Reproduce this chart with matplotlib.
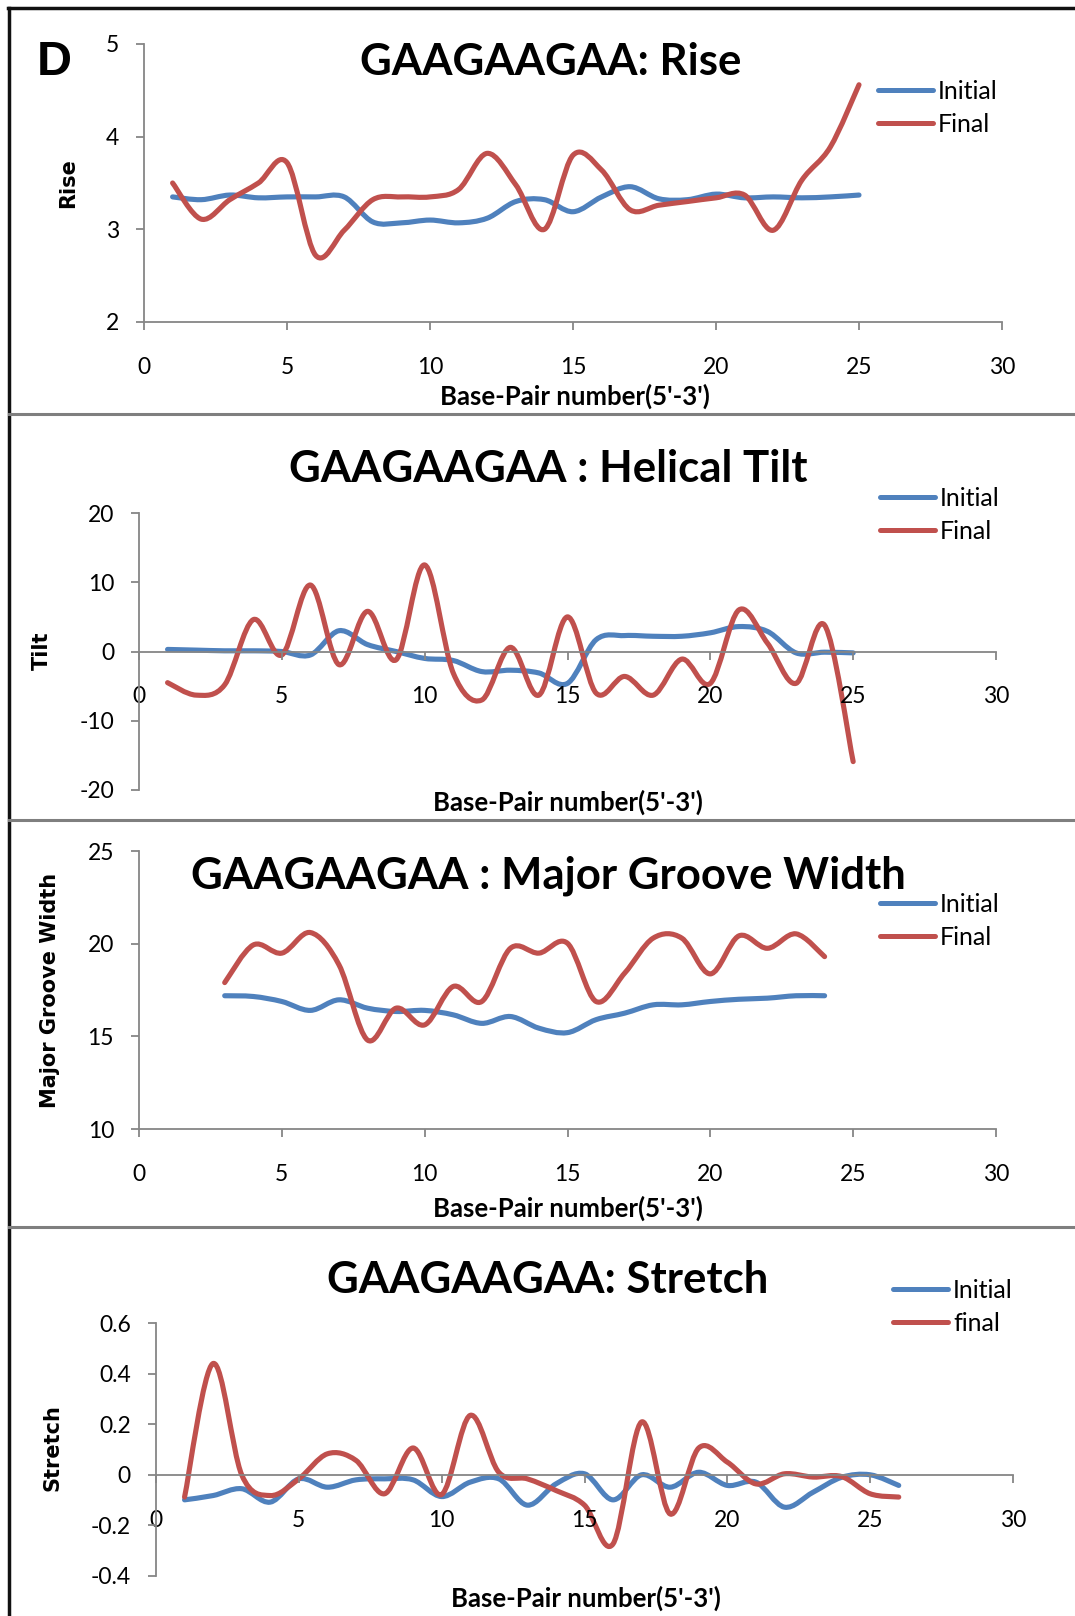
import numpy as np
import matplotlib.pyplot as plt
from matplotlib.path import Path
from matplotlib.patches import PathPatch
from matplotlib.lines import Line2D
from matplotlib.ticker import FuncFormatter

plt.rcParams['font.family'] = ['Lato', 'DejaVu Sans']
plt.rcParams['axes.unicode_minus'] = False

W, H = 1075, 1616
BLUE = '#4f81bd'
RED = '#c0504d'
AXIS = '#868686'

# Rise (Angstrom) per base-pair step
bp_rise = list(range(1, 26))
rise_initial = [3.35, 3.32, 3.37, 3.34, 3.35, 3.35, 3.35, 3.08, 3.07, 3.10, 3.07, 3.12, 3.30,
                3.32, 3.19, 3.35, 3.46, 3.33, 3.32, 3.38, 3.34, 3.35, 3.34, 3.35, 3.37]
rise_final = [3.50, 3.11, 3.32, 3.50, 3.72, 2.72, 2.99, 3.32, 3.35, 3.35, 3.43, 3.82, 3.48,
              3.00, 3.80, 3.64, 3.21, 3.26, 3.30, 3.34, 3.37, 2.99, 3.53, 3.89, 4.56]

# Helical tilt (degrees)
bp_tilt = list(range(1, 26))
tilt_initial = [0.3, 0.2, 0.1, 0.1, 0.0, -0.5, 3.0, 1.0, 0.0, -1.0, -1.3, -2.9, -2.7,
                -3.1, -4.6, 1.7, 2.3, 2.2, 2.2, 2.7, 3.6, 2.9, -0.2, -0.1, -0.2]
tilt_final = [-4.5, -6.3, -4.8, 4.6, -0.5, 9.6, -1.9, 5.8, -1.2, 12.5, -3.1, -7.0, 0.6,
              -6.3, 5.0, -6.0, -3.6, -6.3, -1.1, -4.6, 6.0, 1.2, -4.6, 3.8, -15.9]

# Major groove width (Angstrom)
bp_groove = list(range(3, 25))
groove_initial = [17.19, 17.15, 16.88, 16.40, 16.97, 16.52, 16.34, 16.40, 16.16, 15.70, 16.07,
                  15.44, 15.20, 15.90, 16.25, 16.70, 16.70, 16.88, 17.00, 17.06, 17.19, 17.19]
groove_final = [17.90, 19.93, 19.49, 20.60, 18.86, 14.80, 16.52, 15.62, 17.69, 16.88, 19.75,
                19.49, 20.02, 16.88, 18.41, 20.30, 20.30, 18.37, 20.42, 19.75, 20.53, 19.30]

# Stretch (Angstrom)
bp_stretch = list(range(1, 27))
stretch_initial = [-0.099, -0.082, -0.055, -0.108, -0.016, -0.049, -0.020, -0.016, -0.020,
                   -0.086, -0.029, -0.016, -0.120, -0.036, 0.004, -0.099, 0.000, -0.049,
                   0.010, -0.042, -0.029, -0.128, -0.069, -0.010, 0.000, -0.042]
stretch_final = [-0.088, 0.440, 0.000, -0.082, -0.016, 0.083, 0.057, -0.075, 0.106, -0.078,
                 0.235, 0.010, -0.016, -0.062, -0.120, -0.273, 0.209, -0.155, 0.106, 0.050,
                 -0.036, 0.004, -0.009, -0.007, -0.075, -0.088]

x_ticks = [0, 5, 10, 15, 20, 25, 30]


def smooth_path(x, y):
    # cubic bezier through every point (spreadsheet style smoothed line)
    x = np.asarray(x, float)
    y = np.asarray(y, float)
    px = np.concatenate([[x[0]], x, [x[-1]]])
    py = np.concatenate([[y[0]], y, [y[-1]]])
    verts = [(x[0], y[0])]
    codes = [Path.MOVETO]
    for i in range(len(x) - 1):
        c1 = (px[i + 1] + (px[i + 2] - px[i]) / 6, py[i + 1] + (py[i + 2] - py[i]) / 6)
        c2 = (px[i + 2] - (px[i + 3] - px[i + 1]) / 6, py[i + 2] - (py[i + 3] - py[i + 1]) / 6)
        verts += [c1, c2, (x[i + 1], y[i + 1])]
        codes += [Path.CURVE4] * 3
    return Path(verts, codes)


def px_rect(l, t, r, b):
    return [l / W, 1 - b / H, (r - l) / W, (b - t) / H]


def panel(rect, ylim, yticks, zero_axis=False):
    ax = fig.add_axes(px_rect(*rect))
    ax.patch.set_visible(False)
    ax.set_xlim(0, 30)
    ax.set_ylim(ylim)
    ax.set_xticks(x_ticks)
    ax.set_yticks(yticks)
    ax.yaxis.set_major_formatter(FuncFormatter(lambda v, p: f'{v:g}'))
    for s in ('top', 'right'):
        ax.spines[s].set_visible(False)
    for s in ('left', 'bottom'):
        ax.spines[s].set_color(AXIS)
        ax.spines[s].set_linewidth(1.3)
    if zero_axis:
        ax.spines['bottom'].set_position(('data', 0))
    ax.tick_params(color=AXIS, labelcolor='black', length=6, width=1.3, labelsize=16.5)
    ax.tick_params(axis='x', pad=19)
    ax.tick_params(axis='y', pad=12)
    return ax


def draw_series(ax, x, y, color):
    ax.add_patch(PathPatch(smooth_path(x, y), fill=False, edgecolor=color, lw=3.7,
                           capstyle='round', joinstyle='round', clip_on=False))


def legend(ax, x0, y_mid, labels):
    handles = [Line2D([], [], color=BLUE, lw=3.6, solid_capstyle='round'),
               Line2D([], [], color=RED, lw=3.6, solid_capstyle='round')]
    ax.legend(handles, labels, loc='center left', bbox_to_anchor=(x0 / W, 1 - y_mid / H),
              bbox_transform=fig.transFigure, frameon=False, fontsize=18,
              handlelength=2.2, handletextpad=0.2, labelspacing=0.4,
              borderpad=0, borderaxespad=0)


fig = plt.figure(figsize=(W / 100, H / 100), dpi=100)

# panel frame
fig.add_artist(Line2D([8 / W, 1], [1 - 8 / H] * 2, color='#111111', lw=2.5))
fig.add_artist(Line2D([9 / W] * 2, [0, 1 - 8 / H], color='#111111', lw=2.5))
for ysep in (414, 820, 1227):
    fig.add_artist(Line2D([9 / W, 1], [1 - ysep / H] * 2, color='#7f7f7f', lw=2.2))

fig.text(37 / W, 1 - 75 / H, 'D', fontsize=35, fontweight='bold',
         family='Liberation Sans', ha='left', va='baseline')

title_kw = dict(fontsize=31.5, fontweight='bold', ha='center', va='baseline')
xlab_kw = dict(fontsize=18.5, fontweight='bold', ha='center', va='baseline')
ylab_kw = dict(fontsize=15, fontweight='bold', family='DejaVu Sans', rotation=90,
               ha='center', va='center')

# Rise
ax1 = panel((144, 44, 1002, 322), (2, 5), [2, 3, 4, 5])
draw_series(ax1, bp_rise, rise_initial, BLUE)
draw_series(ax1, bp_rise, rise_final, RED)
legend(ax1, 878, 108, ['Initial', 'Final'])
fig.text(551 / W, 1 - 75 / H, 'GAAGAAGAA: Rise', **title_kw)
fig.text(575 / W, 1 - 405 / H, "Base-Pair number(5'-3')", **xlab_kw)
fig.text(68 / W, 1 - 183 / H, 'Rise', **ylab_kw)

# Helical tilt
ax2 = panel((139, 513, 996, 790), (-20, 20), [-20, -10, 0, 10, 20], zero_axis=True)
draw_series(ax2, bp_tilt, tilt_initial, BLUE)
draw_series(ax2, bp_tilt, tilt_final, RED)
legend(ax2, 880, 515, ['Initial', 'Final'])
fig.text(548 / W, 1 - 482 / H, 'GAAGAAGAA : Helical Tilt', **title_kw)
fig.text(568 / W, 1 - 811 / H, "Base-Pair number(5'-3')", **xlab_kw)
fig.text(42 / W, 1 - 651 / H, 'Tilt', **ylab_kw)

# Major groove width
ax3 = panel((139, 851, 996, 1129), (10, 25), [10, 15, 20, 25])
draw_series(ax3, bp_groove, groove_initial, BLUE)
draw_series(ax3, bp_groove, groove_final, RED)
legend(ax3, 880, 921, ['Initial', 'Final'])
fig.text(548 / W, 1 - 888 / H, 'GAAGAAGAA : Major Groove Width', **title_kw)
fig.text(568 / W, 1 - 1217 / H, "Base-Pair number(5'-3')", **xlab_kw)
fig.text(50 / W, 1 - 990 / H, 'Major Groove Width', **ylab_kw)

# Stretch
ax4 = panel((156, 1323, 1013, 1576), (-0.4, 0.6), [-0.4, -0.2, 0, 0.2, 0.4, 0.6],
            zero_axis=True)
draw_series(ax4, bp_stretch, stretch_initial, BLUE)
draw_series(ax4, bp_stretch, stretch_final, RED)
legend(ax4, 893, 1307, ['Initial', 'final'])
fig.text(548 / W, 1 - 1293 / H, 'GAAGAAGAA: Stretch', **title_kw)
fig.text(586 / W, 1 - 1607 / H, "Base-Pair number(5'-3')", **xlab_kw)
fig.text(53 / W, 1 - 1448 / H, 'Stretch', **ylab_kw)

fig.savefig('out.png', dpi=100)
